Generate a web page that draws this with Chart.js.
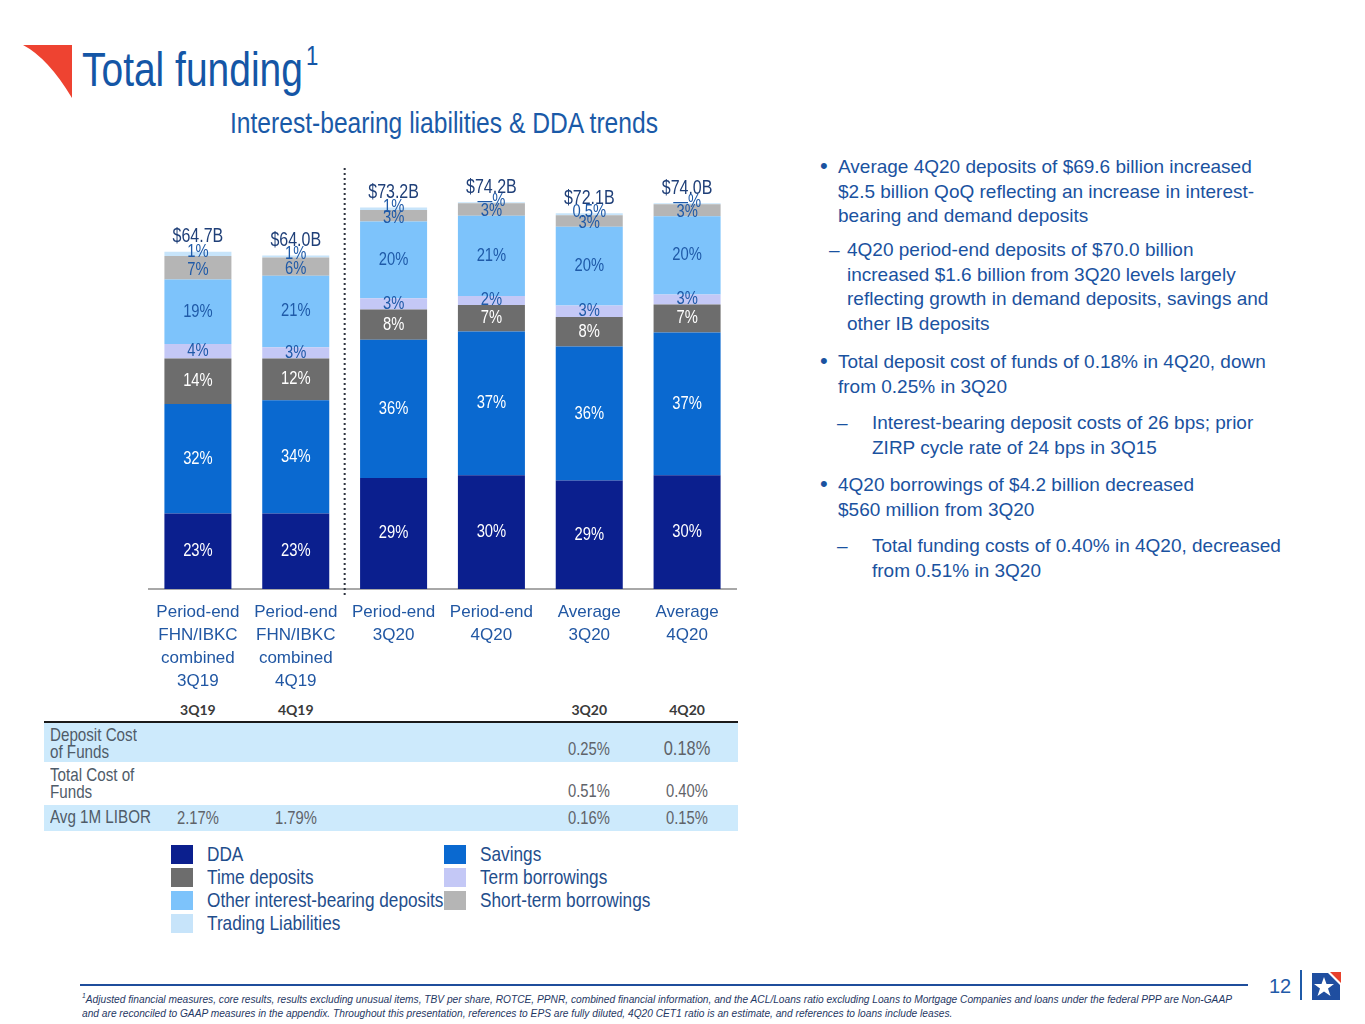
<!DOCTYPE html>
<html><head><meta charset="utf-8">
<script src="https://cdn.jsdelivr.net/npm/chart.js@4.4.1/dist/chart.umd.min.js"></script>
<style>
html,body{margin:0;padding:0;background:#fff;}
body{width:1365px;height:1024px;position:relative;overflow:hidden;font-family:"Liberation Sans",Arial,sans-serif;}
.abs{position:absolute;white-space:nowrap;}
.nar{transform:scaleX(0.82);transform-origin:left top;}
.narc{transform:scaleX(0.82);transform-origin:center top;}
.bul{position:absolute;font-size:19px;line-height:24.6px;color:#1a52a0;white-space:nowrap;}
.mk{position:absolute;font-size:22px;line-height:24.6px;color:#1a52a0;}
</style></head><body>

<svg class="abs" style="left:0;top:0" width="100" height="110">
  <path d="M23,45 L72,45 L72,98 Q48,58 23,45 Z" fill="#ee4331"/>
</svg>
<div class="abs nar" style="left:82px;top:47px;font-size:47.5px;line-height:45px;color:#1456a6;">Total funding</div>
<div class="abs nar" style="left:306px;top:43px;font-size:27px;line-height:27px;color:#1456a6;">1</div>
<div class="abs nar" style="left:230px;top:108px;font-size:30px;line-height:29px;color:#1a5aa8;">Interest-bearing liabilities &amp; DDA trends</div>

<canvas id="c" width="610" height="549" style="position:absolute;left:140px;top:150px;"></canvas>

<div id="table"></div>
<div id="legend"></div>

<!-- bullets -->
<div class="mk" style="left:820px;top:154px;">•</div>
<div class="bul" style="left:838px;top:155px;">Average 4Q20 deposits of $69.6 billion increased<br>$2.5 billion QoQ reflecting an increase in interest-<br>bearing and demand deposits</div>
<div class="bul" style="left:829px;top:238px;">–</div>
<div class="bul" style="left:847px;top:238px;">4Q20 period-end deposits of $70.0 billion<br>increased $1.6 billion from 3Q20 levels largely<br>reflecting growth in demand deposits, savings and<br>other IB deposits</div>
<div class="mk" style="left:820px;top:349px;">•</div>
<div class="bul" style="left:838px;top:350px;">Total deposit cost of funds of 0.18% in 4Q20, down<br>from 0.25% in 3Q20</div>
<div class="bul" style="left:837px;top:411px;">–</div>
<div class="bul" style="left:872px;top:411px;">Interest-bearing deposit costs of 26 bps; prior<br>ZIRP cycle rate of 24 bps in 3Q15</div>
<div class="mk" style="left:820px;top:472px;">•</div>
<div class="bul" style="left:838px;top:473px;">4Q20 borrowings of $4.2 billion decreased<br>$560 million from 3Q20</div>
<div class="bul" style="left:837px;top:534px;">–</div>
<div class="bul" style="left:872px;top:534px;">Total funding costs of 0.40% in 4Q20, decreased<br>from 0.51% in 3Q20</div>

<!-- footer -->
<div class="abs" style="left:80px;top:984px;width:1168px;height:2px;background:#1f4e9c;"></div>
<div id="foot" class="abs" style="left:82px;top:989px;font-size:10.5px;line-height:14px;font-style:italic;color:#1f3864;transform-origin:left top;"><sup style="font-size:7px">1</sup>Adjusted financial measures, core results, results excluding unusual items, TBV per share, ROTCE, PPNR, combined financial information, and the ACL/Loans ratio excluding Loans to Mortgage Companies and loans under the federal PPP are Non-GAAP<br>and are reconciled to GAAP measures in the appendix. Throughout this presentation, references to EPS are fully diluted, 4Q20 CET1 ratio is an estimate, and references to loans include leases.</div>
<div class="abs" style="left:1269px;top:975px;font-size:20px;line-height:22px;color:#1f5aa8;">12</div>
<div class="abs" style="left:1300px;top:970px;width:2px;height:30px;background:#1f5aa8;"></div>
<svg class="abs" style="left:1308px;top:968px" width="36" height="36">
  <path d="M4,5 L20,5 L32,17 L32,32 L4,32 Z" fill="#1f4ea0"/>
  <path d="M22,4 L33,4 L33,15 Z" fill="#e8412c"/>
  <path d="M16,9 L18.5,16 L26,16 L20,20.5 L22.5,28 L16,23.5 L9.5,28 L12,20.5 L6,16 L13.5,16 Z" fill="#fff"/>
</svg>

<script>
// ---------- data ----------
const categories = [
  ["Period-end","FHN/IBKC","combined","3Q19"],
  ["Period-end","FHN/IBKC","combined","4Q19"],
  ["Period-end","3Q20"],
  ["Period-end","4Q20"],
  ["Average","3Q20"],
  ["Average","4Q20"]
];
const seriesNames = ["DDA","Savings","Time deposits","Term borrowings","Other interest-bearing deposits","Short-term borrowings","Trading Liabilities"];
// $ billions per segment
const dda            = [14.5, 14.5, 21.3, 21.8, 20.8, 21.8];
const savings        = [21.0, 21.7, 26.5, 27.6, 25.7, 27.4];
const timeDeposits   = [8.7, 8.0, 5.8, 5.1, 5.7, 5.4];
const termBorrowings = [2.8, 2.2, 2.2, 1.7, 2.2, 1.9];
const otherIB        = [12.4, 13.7, 14.7, 15.4, 15.1, 15.0];
const shortTerm      = [4.5, 3.5, 2.2, 2.4, 2.2, 2.3];
const trading        = [0.8, 0.4, 0.5, 0.2, 0.4, 0.2];
// printed labels
const ddaLabels     = ["23%","23%","29%","30%","29%","30%"];
const savingsLabels = ["32%","34%","36%","37%","36%","37%"];
const timeLabels    = ["14%","12%","8%","7%","8%","7%"];
const termLabels    = ["4%","3%","3%","2%","3%","3%"];
const otherLabels   = ["19%","21%","20%","21%","20%","20%"];
const shortLabels   = ["7%","6%","3%","3%","3%","3%"];
const tradingLabels = ["1%","1%","1%","—%","0.5%","—%"];
const totalLabels   = ["$64.7B","$64.0B","$73.2B","$74.2B","$72.1B","$74.0B"];
// table
const tableHeader  = ["3Q19","4Q19","","","3Q20","4Q20"];
const rowNames     = ["Deposit Cost<br>of Funds","Total Cost of<br>Funds","Avg 1M LIBOR"];
const depositCost  = ["","","","","0.25%","0.18%"];
const totalCost    = ["","","","","0.51%","0.40%"];
const libor        = ["2.17%","1.79%","","","0.16%","0.15%"];

// ---------- styles ----------
const seriesColors = ["#0b1f8e","#0a69d0","#6d6d6d","#c4c8f6","#7dc3fb","#b5b5b5","#c7e4fa"];
const labelColors  = ["#ffffff","#ffffff","#ffffff","#1f5aa8","#1f5aa8","#1f5aa8","#1f5aa8"];
const values = [dda, savings, timeDeposits, termBorrowings, otherIB, shortTerm, trading];
const segLabels = [ddaLabels, savingsLabels, timeLabels, termLabels, otherLabels, shortLabels, tradingLabels];

function narrowText(ctx, txt, x, y, size) {
  ctx.save();
  ctx.font = size + 'px "Liberation Sans", Arial, sans-serif';
  ctx.translate(x, y);
  ctx.scale(0.82, 1);
  ctx.fillText(txt, 0, 0);
  ctx.restore();
}

const labelPlugin = {
  id: 'segLabels',
  afterDatasetsDraw(chart) {
    const ctx = chart.ctx;
    ctx.save();
    ctx.textAlign = 'center';
    ctx.textBaseline = 'middle';
    chart.data.datasets.forEach((ds, i) => {
      const meta = chart.getDatasetMeta(i);
      meta.data.forEach((bar, j) => {
        let cy = (bar.y + bar.base) / 2;
        if (i === 6) cy -= 2;
        if (i === 5) cy += 2;
        ctx.fillStyle = labelColors[i];
        narrowText(ctx, segLabels[i][j], bar.x, cy, 18);
      });
    });
    const topMeta = chart.getDatasetMeta(values.length - 1);
    topMeta.data.forEach((bar, j) => {
      ctx.fillStyle = '#1f3f78';
      narrowText(ctx, totalLabels[j], bar.x, bar.y - 15, 19.5);
    });
    const m0 = chart.getDatasetMeta(0);
    const xSep = (m0.data[1].x + m0.data[2].x) / 2;
    ctx.beginPath();
    ctx.setLineDash([2, 3]);
    ctx.strokeStyle = '#2e3440';
    ctx.lineWidth = 2;
    ctx.moveTo(xSep, chart.chartArea.top - 4);
    ctx.lineTo(xSep, chart.chartArea.bottom + 7);
    ctx.stroke();
    ctx.restore();
  }
};

const chart = new Chart(document.getElementById('c'), {
  type: 'bar',
  data: {
    labels: categories,
    datasets: values.map((v, i) => ({
      label: seriesNames[i],
      data: v,
      backgroundColor: seriesColors[i],
      borderWidth: 0,
      barPercentage: 0.685,
      categoryPercentage: 1.0
    }))
  },
  options: {
    responsive: false,
    animation: false,
    layout: { padding: { top: 22, left: 9, right: 14, bottom: 0 } },
    plugins: { legend: { display: false }, tooltip: { enabled: false } },
    scales: {
      x: {
        stacked: true,
        grid: { display: false, drawTicks: false },
        border: { display: true, color: '#a8a8a8', width: 2 },
        ticks: {
          color: '#2157a3',
          font: { family: '"Liberation Sans", Arial, sans-serif', size: 17, lineHeight: 1.353 },
          padding: 12, maxRotation: 0, autoSkip: false
        },
        afterFit(s) { s.height = 110; }
      },
      y: { stacked: true, display: false, min: 0, max: 80 }
    }
  },
  plugins: [labelPlugin]
});

// ---------- table (columns aligned with chart categories) ----------
const cv = document.getElementById('c');
const offX = cv.offsetLeft;
const colX = categories.map((c, j) => offX + chart.scales.x.getPixelForValue(j));
const tbl = document.getElementById('table');
let html = '';
html += '<div class="abs" style="left:44px;top:721px;width:694px;height:2px;background:#1a1a1a"></div>';
html += '<div class="abs" style="left:44px;top:723px;width:694px;height:39px;background:#cdeafc"></div>';
html += '<div class="abs" style="left:44px;top:805px;width:694px;height:26px;background:#cdeafc"></div>';
tableHeader.forEach((h, j) => {
  if (h) html += `<div class="abs" style="left:${colX[j]-40}px;width:80px;text-align:center;top:701px;font-family:Lato,sans-serif;font-weight:bold;font-size:14px;line-height:18px;color:#3a3a3a">${h}</div>`;
});
const rows = [depositCost, totalCost, libor];
const rowLabelTop = [727, 767, 809];
const rowValTop = [740, 782, 809];
rows.forEach((r, k) => {
  html += `<div class="abs nar" style="left:50px;top:${rowLabelTop[k]}px;font-size:18.5px;line-height:16.5px;color:#4f5b68">${rowNames[k]}</div>`;
  r.forEach((v, j) => {
    if (!v) return;
    const big = (k === 0 && j === 5);
    html += `<div class="abs narc" style="left:${colX[j]-40}px;width:80px;text-align:center;top:${rowValTop[k] - (big?1:0)}px;font-size:${big?20:18}px;line-height:19px;color:#5f6369">${v}</div>`;
  });
});
tbl.innerHTML = html;

// ---------- legend ----------
const legendOrder = [[0,1],[2,3],[4,5],[6]];
let lh = '';
legendOrder.forEach((row, r) => {
  row.forEach((si, c) => {
    const sx = c === 0 ? 171 : 444;
    const cy = 854 + r * 23;
    lh += `<div class="abs" style="left:${sx}px;top:${cy-9.5}px;width:22px;height:19px;background:${seriesColors[si]}"></div>`;
    lh += `<div class="abs nar" style="left:${sx+36}px;top:${cy-12}px;font-size:21px;line-height:24px;color:#1f4e8c">${seriesNames[si]}</div>`;
  });
});
document.getElementById('legend').innerHTML = lh;

// fit footnote to its width in the reference
const foot = document.getElementById('foot');
const fw = foot.getBoundingClientRect().width;
foot.style.transform = `scaleX(${1150 / fw})`;
</script>
</body></html>
